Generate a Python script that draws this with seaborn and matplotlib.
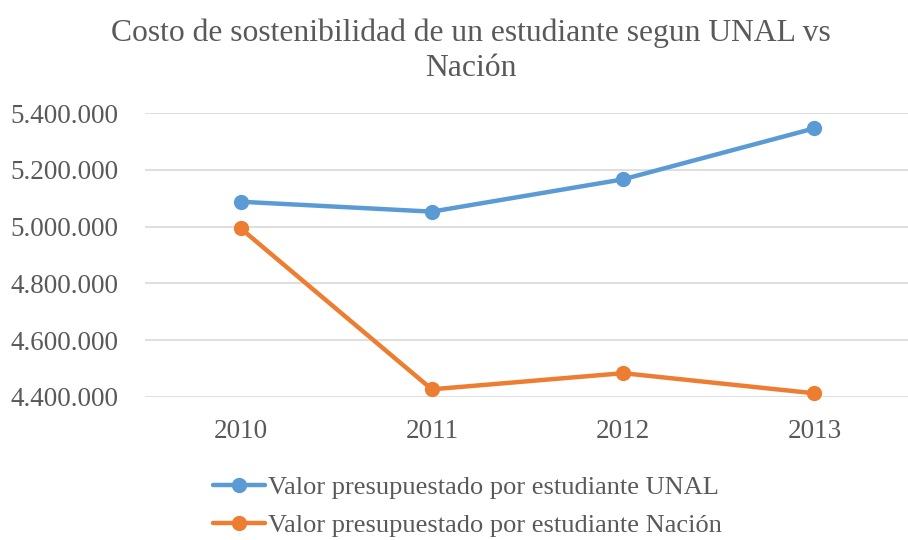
import matplotlib
matplotlib.use("Agg")
import matplotlib.pyplot as plt
import matplotlib.ticker as mticker
import seaborn as sns
import pandas as pd

years = ["2010", "2011", "2012", "2013"]
unal = [5088000, 5053000, 5167000, 5347000]
nacion = [4994000, 4426000, 4483000, 4412000]
series_names = ["Valor presupuestado por estudiante UNAL",
                "Valor presupuestado por estudiante Nación"]
title = "Costo de sostenibilidad de un estudiante segun UNAL vs\nNación"
yticks = [4400000, 4600000, 4800000, 5000000, 5200000, 5400000]

df = pd.DataFrame({
    "year": years * 2,
    "value": unal + nacion,
    "serie": [series_names[0]] * 4 + [series_names[1]] * 4,
})

sns.set_theme(style="white")
plt.rcParams["font.family"] = ["Liberation Serif", "DejaVu Serif"]
txt = "#595959"

fig = plt.figure(figsize=(9.08, 5.4), dpi=100)
ax = fig.add_axes([145 / 908, 1 - 396.7 / 540, (910 - 145) / 908, (396.7 - 113.3) / 540])

sns.lineplot(data=df, x="year", y="value", hue="serie", marker="o",
             palette=["#5B9BD5", "#ED7D31"], linewidth=3.2, markersize=11,
             markeredgewidth=0, ax=ax, sort=False, clip_on=False)

ax.set_xlim(-0.5, 3.5)
ax.set_ylim(4400000, 5400000)
ax.set_yticks(yticks)
ax.yaxis.set_major_formatter(mticker.FuncFormatter(lambda v, p: f"{int(v):,}".replace(",", ".")))
ax.grid(axis="y", color="#D9D9D9", linewidth=1.2)
ax.set_axisbelow(True)
for s in ax.spines.values():
    s.set_visible(False)
ax.set_xlabel("")
ax.set_ylabel("")
ax.tick_params(axis="both", labelsize=19.5, colors=txt, length=0)
ax.tick_params(axis="y", pad=19)
ax.tick_params(axis="x", pad=16)
for lab in ax.get_xticklabels() + ax.get_yticklabels():
    lab.set_color(txt)

handles, labels = ax.get_legend_handles_labels()
ax.get_legend().remove()
leg = fig.legend(handles, labels, loc="upper left", bbox_to_anchor=(202 / 908, 1 - 465 / 540),
                 ncol=1, frameon=False, fontsize=19.0, handlelength=2.0, handletextpad=0.1,
                 labelspacing=0.55, borderaxespad=0)
for t in leg.get_texts():
    t.set_color(txt)

fig.text(471 / 908, 1 - 18 / 540, title, ha="center", va="top", fontsize=22.8,
         color=txt, linespacing=1.3)

fig.savefig("out.png", dpi=100, facecolor="white")
